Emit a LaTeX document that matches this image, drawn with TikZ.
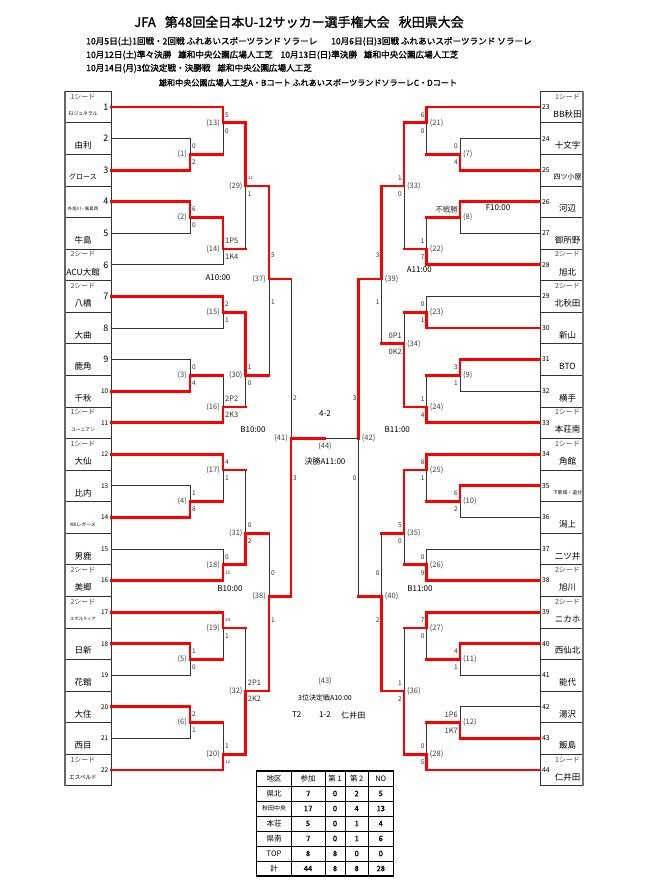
\documentclass[tikz,border=0pt]{standalone}
\usepackage{fontspec}
\setmainfont{Noto Sans CJK JP}
\newfontfamily\boldjp[FakeBold=1.5]{Noto Sans CJK JP}
\usetikzlibrary{calc}
\newcommand{\fs}[1]{\fontsize{#1}{#1}\selectfont}
\newcommand{\pk}[1]{{\fs{7.5}#1}}
\newcommand{\sm}[1]{{\fs{4.5}#1}}
\newcommand{\tn}{\fs{4.8}}

% lines of one match: number, top source, bottom source, winner (1/2), loser line red (1/0)
\newcommand{\bracket}[5]{%
	\draw[bline] (#2) -- (#2 -| m#1) -- (#3 -| m#1) -- (#3);
	\ifnum#4=1
		\draw[rline] (#2) -- (#2 -| m#1) -- (m#1);
		\ifnum#5=1 \draw[rline] (#3) -- (#3 -| m#1);\fi
	\else
		\draw[rline] (#3) -- (#3 -| m#1) -- (m#1);
		\ifnum#5=1 \draw[rline] (#2) -- (#2 -| m#1);\fi
	\fi}
% left half: label left of the line, scores right of it
\newcommand{\lmatch}[8]{%
	\bracket{#1}{#2}{#3}{#4}{#5}
	\node[mlabel, anchor=east] (l#1) at ([xshift=-2.5pt]m#1) {(#1)};
	\node[score, anchor=west] (sa#1) at ([xshift=1.5pt, yshift=#8pt]m#1) {#6};
	\node[score, anchor=west] (sb#1) at ([xshift=1.5pt, yshift=-#8pt]m#1) {#7};}
% right half: mirrored
\newcommand{\rmatch}[8]{%
	\bracket{#1}{#2}{#3}{#4}{#5}
	\node[mlabel, anchor=west] (l#1) at ([xshift=2.5pt]m#1) {(#1)};
	\node[score, anchor=east] (sa#1) at ([xshift=-1.5pt, yshift=#8pt]m#1) {#6};
	\node[score, anchor=east] (sb#1) at ([xshift=-1.5pt, yshift=-#8pt]m#1) {#7};}

\begin{document}
\begin{tikzpicture}[x=1pt, y=-1pt, font=\fs{8},
	bline/.style={black!80, line width=0.8pt},
	rline/.style={red, line width=2.8pt, line cap=rect},
	lbox/.style={draw=black!80, line width=0.7pt, minimum width=46pt, minimum height=31.57pt, inner sep=0pt, outer sep=0pt},
	mlabel/.style={black!75, inner sep=0.5pt, font=\fs{7.5}},
	score/.style={black!80, inner sep=0.5pt, font=\fs{6.5}},
	tname/.style={inner sep=0.5pt, font=\fs{8.5}},
	seed/.style={black!70, inner sep=0.5pt, font=\fs{7}},
	hdr/.style={inner sep=0pt, font={\boldjp\fs{8.6}}},
	cell/.style={inner sep=0pt, font={\boldjp\fs{7.5}}}]
\fill[white] (0,0) rectangle (650,891);
\useasboundingbox (0,0) rectangle (650,891);

%========================
% header
%========================
\node[hdr, font={\boldjp\fs{13}}] (title) at (299,22) {JFA\hspace{0.7em}第48回全日本U-12サッカー選手権大会\hspace{0.7em}秋田県大会};
\node[hdr, anchor=west] (h1) at (86,41.5) {10月5日(土)1回戦・2回戦 ふれあいスポーツランド ソラーレ\hspace{1.6em}10月6日(日)3回戦 ふれあいスポーツランド ソラーレ};
\node[hdr, anchor=west] (h2) at (86,55) {10月12日(土)準々決勝\hspace{0.8em}雄和中央公園広場人工芝\hspace{0.9em}10月13日(日)準決勝\hspace{0.8em}雄和中央公園広場人工芝};
\node[hdr, anchor=west] (h3) at (86,68.3) {10月14日(月)3位決定戦・決勝戦\hspace{0.8em}雄和中央公園広場人工芝};
\node[hdr, font={\boldjp\fs{8.1}}] (h4) at (308,82.7) {雄和中央公園広場人工芝A・Bコート ふれあいスポーツランドソラーレC・Dコート};

%========================
% team boxes
%========================
\foreach \i in {1,...,22}
	\node[lbox] (t\i) at (88,{107+(\i-1)*31.57}) {};
\foreach \i in {23,...,44}
	\node[lbox, minimum width=43pt] (t\i) at (561.5,{107+(\i-23)*31.57}) {};
\draw[black!60, line width=1.2pt] (t1.north west) -- (t22.south west);
\draw[black!55, line width=1.6pt] (t23.north east) -- (t44.south east);

% numbers
\foreach \i in {1,...,22}
	\node[inner sep=0.5pt, anchor=east] (n\i) at ([xshift=-2pt]t\i.east) {\ifnum\i<10 \fs{9}\else\fs{6.5}\fi\i};
\foreach \i in {23,...,44}
	\node[inner sep=0.5pt, anchor=west, font=\fs{6.8}] (n\i) at ([xshift=1.5pt]t\i.west) {\i};

% names
\foreach \i/\nm in {1/{\tn F2ジュネラル}, 2/由利, 3/{\fs{7}グロース}, 4/{\fs{4.3}外旭川・飯島西}, 5/牛島, 6/ACU大館, 7/八橋, 8/大曲, 9/鹿角, 10/千秋, 11/{\tn ユーニアン}, 12/大仙, 13/比内, 14/{\tn KKレガーメ}, 15/男鹿, 16/美郷, 17/{\fs{4.3}エボルティア}, 18/日新, 19/花館, 20/大住, 21/西目, 22/{\fs{5.6}エスペルド}}
	\node[tname] (nm\i) at ([xshift=-5pt, yshift=-7pt]t\i.center) {\nm};
\foreach \i/\nm in {23/BB秋田, 24/十文字, 25/{\fs{7}四ツ小屋}, 26/河辺, 27/御所野, 28/旭北, 29/北秋田, 30/新山, 31/BTO, 32/横手, 33/本荘南, 34/角館, 35/{\tn 下新城・追分}, 36/潟上, 37/二ツ井, 38/旭川, 39/ニカホ, 40/西仙北, 41/能代, 42/湯沢, 43/飯島, 44/仁井田}
	\node[tname] (nm\i) at ([xshift=6pt, yshift=-7pt]t\i.center) {\nm};

% seeds
\foreach \i/\sd in {1/1, 6/2, 7/2, 11/1, 12/1, 16/2, 17/2, 22/1}
	\node[seed] (sd\i) at ([xshift=-5pt, yshift=10.5pt]t\i.center) {\sd シード};
\foreach \i/\sd in {23/1, 28/2, 29/2, 33/1, 34/1, 38/2, 39/2, 44/1}
	\node[seed] (sd\i) at ([xshift=6pt, yshift=10.5pt]t\i.center) {\sd シード};

%========================
% match points (x, slot)
%========================
\foreach \n/\x/\k in {1/190/2.5, 2/190/4.5, 3/190/9.5, 4/190/13.5, 5/190/18.5, 6/190/20.5,
	13/223/1.5, 14/223/5.5, 15/223/7.5, 16/223/10.5, 17/223/12.5, 18/223/15.5, 19/223/17.5, 20/223/21.5,
	29/245.7/3.5, 30/245.7/9.5, 31/245.7/14.5, 32/245.7/19.5, 37/269/6.45, 38/269/16.5, 41/291/11.5,
	7/460/2.5, 8/460/4.5, 9/460/9.5, 10/460/13.5, 11/460/18.5, 12/460/20.5,
	21/426.7/1.5, 22/426.7/5.5, 23/426.7/7.5, 24/426.7/10.5, 25/426.7/12.5, 26/426.7/15.5, 27/426.7/17.5, 28/426.7/21.5,
	33/404/3.5, 34/404/8.5, 35/404/14.5, 36/404/19.5, 39/381.7/6.45, 40/381.7/16.5, 42/358.7/11.5}
	\coordinate (m\n) at (\x,{107+(\k-1)*31.57});

%========================
% Left half
%========================
\lmatch{1}{t2.east}{t3.east}{2}{0}{0}{2}{8}
\lmatch{2}{t4.east}{t5.east}{1}{0}{6}{0}{8}
\lmatch{3}{t9.east}{t10.east}{2}{0}{0}{4}{8}
\lmatch{4}{t13.east}{t14.east}{2}{0}{1}{8}{8}
\lmatch{5}{t18.east}{t19.east}{1}{0}{1}{0}{8}
\lmatch{6}{t20.east}{t21.east}{1}{0}{2}{1}{8}
\lmatch{13}{t1.east}{m1}{1}{1}{5}{0}{8}
\lmatch{14}{m2}{t6.east}{1}{0}{\pk{1P5}}{\pk{1K4}}{8}
\lmatch{15}{t7.east}{t8.east}{1}{0}{2}{1}{8}
\lmatch{16}{m3}{t11.east}{2}{1}{\pk{2P2}}{\pk{2K3}}{8}
\lmatch{17}{t12.east}{m4}{1}{1}{4}{1}{8}
\lmatch{18}{t15.east}{t16.east}{2}{0}{0}{\sm{10}}{8}
\lmatch{19}{t17.east}{m5}{1}{1}{\sm{14}}{1}{8}
\lmatch{20}{m6}{t22.east}{2}{1}{1}{\sm{12}}{8}
\lmatch{29}{m13}{m14}{1}{1}{\sm{12}}{1}{8}
\lmatch{30}{m15}{m16}{1}{1}{1}{0}{8}
\lmatch{31}{m17}{m18}{2}{1}{0}{2}{8}
\lmatch{32}{m19}{m20}{2}{1}{\pk{2P1}}{\pk{2K2}}{8}
\lmatch{37}{m29}{m30}{1}{1}{5}{1}{23.5}
\lmatch{38}{m31}{m32}{2}{1}{0}{1}{23.5}
\lmatch{41}{m37}{m38}{2}{1}{2}{3}{40}

\node (tA1) at (218,277.7) {A10:00};
\node (tB1) at (253,429.3) {B10:00};
\node (tB2) at (230,589) {B10:00};

%========================
% Right half
%========================
\rmatch{7}{t24.west}{t25.west}{2}{0}{0}{4}{8}
\rmatch{8}{t26.west}{t27.west}{1}{0}{\pk{不戦勝}}{}{8}
\rmatch{9}{t31.west}{t32.west}{1}{0}{3}{1}{8}
\rmatch{10}{t35.west}{t36.west}{1}{0}{6}{2}{8}
\rmatch{11}{t40.west}{t41.west}{1}{0}{4}{1}{8}
\rmatch{12}{t42.west}{t43.west}{2}{0}{\pk{1P6}}{\pk{1K7}}{8}
\rmatch{21}{t23.west}{m7}{1}{1}{6}{0}{8}
\rmatch{22}{m8}{t28.west}{2}{1}{1}{7}{8}
\rmatch{23}{t29.west}{t30.west}{2}{0}{0}{1}{8}
\rmatch{24}{m9}{t33.west}{2}{1}{1}{4}{8}
\rmatch{25}{t34.west}{m10}{1}{1}{8}{1}{8}
\rmatch{26}{t37.west}{t38.west}{2}{0}{0}{9}{8}
\rmatch{27}{t39.west}{m11}{1}{1}{7}{0}{8}
\rmatch{28}{m12}{t44.west}{2}{1}{0}{5}{8}
\rmatch{33}{m21}{m22}{1}{1}{1}{0}{8}
\rmatch{34}{m23}{m24}{2}{1}{\pk{0P1}}{\pk{0K2}}{8}
\rmatch{35}{m25}{m26}{1}{1}{5}{0}{8}
\rmatch{36}{m27}{m28}{2}{1}{1}{2}{8}
\rmatch{39}{m33}{m34}{1}{1}{3}{1}{23.5}
\rmatch{40}{m35}{m36}{2}{1}{0}{2}{23.5}
\rmatch{42}{m39}{m40}{1}{1}{3}{0}{40}

\node (tF) at (498,208) {F10:00};
\node (tA2) at (419.3,270) {A11:00};
\node (tB3) at (397.3,429.3) {B11:00};
\node (tB4) at (420,588.3) {B11:00};

%========================
% final and third place
%========================
\coordinate (m44) at (325,{107+10.5*31.57});
\draw[bline] (m41) -- (m42);
\draw[rline] (m41) -- (m44);
\node (fsc) at (325,414) {4-2};
\node[mlabel] (l44) at (325,446) {(44)};
\node (fin) at (325,461.5) {決勝A11:00};
\node[mlabel] (l43) at (325,681.5) {(43)};
\node[font=\fs{7}] (third) at (325,698.3) {3位決定戦A10:00};
\node (tpa) at (296.7,715) {T2};
\node (tps) at (325,715) {1-2};
\node (tpb) at (353.3,715) {仁井田};

%========================
% table
%========================
\draw[line width=1.2pt] (256.7,771) rectangle (393.3,876);
\foreach \yy in {786,801,...,861}
	\draw[line width=0.9pt] (256.7,\yy) -- (393.3,\yy);
\foreach \xx in {291,325,345,368.3}
	\draw[line width=0.9pt] (\xx,771) -- (\xx,876);
\foreach \hd/\xx [count=\c] in {地区/274, 参加/308, 第 1/335, 第 2/356.7, NO/380.8}
	\node[inner sep=0pt, font=\fs{7.5}] (hd\c) at (\xx,778.5) {\hd};
\foreach \a/\b/\cc/\d/\e [count=\k] in {県北/7/0/2/5, {\fs{6}秋田中央}/17/0/4/13, 本荘/5/0/1/4, 県南/7/0/1/6, TOP/8/8/0/0, 計/44/8/8/28}
{
	\node[inner sep=0pt, font=\fs{7.5}] (r\k a) at (274,{778.5+\k*15}) {\a};
	\node[cell] (r\k b) at (308,{778.5+\k*15}) {\b};
	\node[cell] (r\k c) at (335,{778.5+\k*15}) {\cc};
	\node[cell] (r\k d) at (356.7,{778.5+\k*15}) {\d};
	\node[cell] (r\k e) at (380.8,{778.5+\k*15}) {\e};
}
\end{tikzpicture}
\end{document}
